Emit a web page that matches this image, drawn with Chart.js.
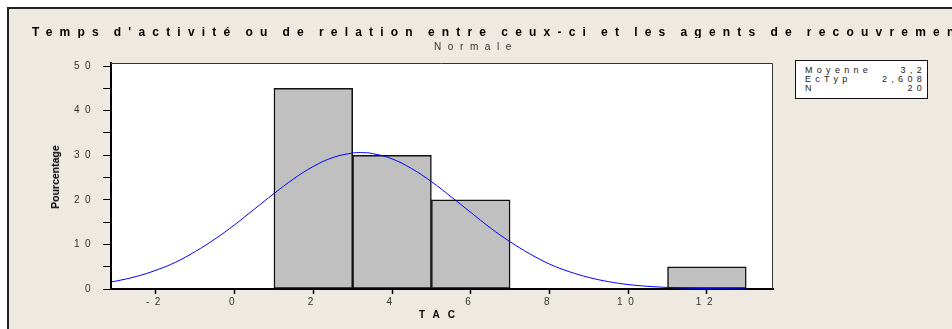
<!DOCTYPE html>
<html>
<head>
<meta charset="utf-8">
<script src="https://cdn.jsdelivr.net/npm/chart.js@4"></script>
<style>
body { margin: 0; background: #fff; width: 952px; height: 329px; overflow: hidden; position: relative; font-family: "Liberation Sans", Arial, sans-serif; }
#frame { position: absolute; left: 7px; top: 7px; width: 945px; height: 322px; background: #EEEAE1; border-left: 2px solid #222; border-top: 2px solid #222; box-sizing: border-box; }
#chart { position: absolute; left: 0; top: 0; }
.txt { position: absolute; white-space: nowrap; }
#title { left: 32px; top: 26px; font-size: 12px; font-weight: bold; letter-spacing: 7.2px; word-spacing: -2.5px; line-height: 12px; color: #000; width: 920px; overflow: hidden; }
#subtitle { left: 0; width: 952px; text-align: center; top: 41px; font-size: 10px; letter-spacing: 6.6px; line-height: 12px; color: #333; }
#ytitle { left: 55px; top: 177px; font-size: 10.5px; font-weight: bold; transform: translate(-50%, -50%) rotate(-90deg); color: #000; }
#xtitle { left: 437px; top: 314px; font-size: 10px; font-weight: bold; letter-spacing: 8px; transform: translate(-50%, -50%); color: #000; padding-left: 8px; }
#stats { position: absolute; left: 795px; top: 60px; width: 133px; height: 39px; box-sizing: border-box; border: 1.5px solid #111; background: #fff; padding: 5px 1px 0 9px; font-size: 9px; letter-spacing: 4.3px; color: #222; }
#stats div { display: flex; justify-content: space-between; line-height: 9.2px; }
</style>
</head>
<body>
<div id="frame"></div>
<canvas id="chart" width="952" height="329"></canvas>
<div class="txt" id="title">Temps d'activité ou de relation entre ceux-ci et les agents de recouvrement</div>
<div class="txt" id="subtitle">Normale</div>
<div class="txt" id="ytitle">Pourcentage</div>
<div class="txt" id="xtitle">TAC</div>
<div id="stats">
  <div><span>Moyenne</span><span>3,2</span></div>
  <div><span>EcTyp</span><span>2,608</span></div>
  <div><span>N</span><span>20</span></div>
</div>
<script>
// histogramme : centres des classes (largeur 2) et pourcentages
const binCenters = [2, 4, 6, 12];
const binPercents = [45, 30, 20, 5];

// courbe normale
const curveX = [-3.14, -3, -2.5, -2, -1.5, -1, -0.5, 0, 0.5, 1, 1.5, 2, 2.5, 3, 3.2, 3.5, 4, 4.5, 5, 5.5, 6, 6.5, 7, 7.5, 8, 8.5, 9, 9.5, 10, 10.5, 11, 11.5, 12, 12.5, 13];
const curveY = [1.6, 1.8, 2.8, 4.2, 6.0, 8.4, 11.2, 14.4, 17.9, 21.4, 24.7, 27.5, 29.5, 30.5, 30.6, 30.4, 29.2, 27.0, 24.1, 20.7, 17.2, 13.7, 10.6, 7.9, 5.6, 3.9, 2.6, 1.65, 1.0, 0.6, 0.35, 0.2, 0.1, 0.05, 0.03];

const xTicks = [-2, 0, 2, 4, 6, 8, 10, 12];
const yTicks = [0, 5, 10, 15, 20, 25, 30, 35, 40, 45, 50];
const yLabels = [0, 10, 20, 30, 40, 50];

const plotArea = {
    id: 'plotArea',
    beforeDraw(chart) {
        const { ctx, chartArea: a } = chart;
        ctx.save();
        ctx.fillStyle = '#fff';
        ctx.fillRect(a.left, a.top, a.right - a.left, a.bottom - a.top);
        ctx.restore();
        ctx.letterSpacing = '5.5px'; // chiffres espacés comme l'original
    },
    afterDraw(chart) {
        const { ctx, chartArea: a } = chart;
        ctx.letterSpacing = '0px';
        ctx.save();
        ctx.strokeStyle = '#333';
        ctx.lineWidth = 1;
        ctx.beginPath();
        ctx.moveTo(a.left, a.top + 0.5);
        ctx.lineTo(a.right - 0.5, a.top + 0.5);
        ctx.lineTo(a.right - 0.5, a.bottom);
        ctx.stroke();
        ctx.restore();
    }
};

new Chart(document.getElementById('chart'), {
    type: 'bar',
    data: {
        datasets: [{
            type: 'line',
            data: curveX.map((x, i) => ({ x: x, y: curveY[i] })),
            borderColor: '#0000FF',
            borderWidth: 1,
            pointRadius: 0,
            tension: 0.4,
            fill: false,
            order: 0
        }, {
            type: 'bar',
            data: binCenters.map((x, i) => ({ x: x, y: binPercents[i] })),
            backgroundColor: '#C0C0C0',
            borderColor: '#111',
            borderWidth: 1.5,
            borderSkipped: false,
            barPercentage: 1,
            categoryPercentage: 1,
            order: 1
        }]
    },
    options: {
        responsive: false,
        animation: false,
        devicePixelRatio: 1,
        layout: { padding: { left: 60, top: 63, right: 179, bottom: 20 } },
        plugins: { legend: { display: false }, tooltip: { enabled: false } },
        scales: {
            x: {
                type: 'linear',
                min: -3.14,
                max: 13.68,
                offset: false,
                afterBuildTicks: s => { s.ticks = xTicks.map(v => ({ value: v })); },
                afterFit: s => { s.height = 20; },
                grid: { offset: false, drawOnChartArea: false, drawTicks: true, tickLength: 5, color: '#000', tickWidth: 1.5 },
                border: { display: true, color: '#000', width: 2 },
                ticks: { autoSkip: false, maxRotation: 0, padding: 2, color: '#333', font: { family: 'Liberation Sans', size: 10 } }
            },
            y: {
                min: 0,
                max: 50.7,
                afterBuildTicks: s => { s.ticks = yTicks.map(v => ({ value: v })); },
                afterFit: s => { s.width = 51; },
                grid: { drawOnChartArea: false, drawTicks: true, tickLength: 8, color: '#000', tickWidth: 1 },
                border: { display: true, color: '#000', width: 2 },
                ticks: {
                    autoSkip: false,
                    padding: 7,
                    color: '#333',
                    font: { family: 'Liberation Sans', size: 10 },
                    callback: v => yLabels.includes(v) ? String(v) : ''
                }
            }
        }
    },
    plugins: [plotArea]
});
</script>
</body>
</html>
